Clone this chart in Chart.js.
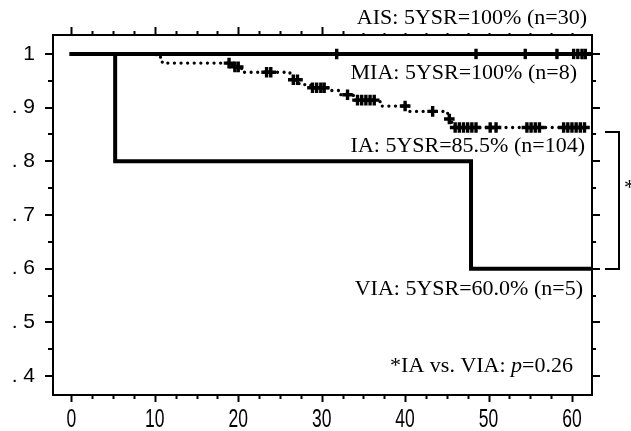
<!DOCTYPE html>
<html>
<head>
<meta charset="utf-8">
<script src="https://cdn.jsdelivr.net/npm/chart.js@4.4.1/dist/chart.umd.min.js"></script>
<style>
  html,body{margin:0;padding:0;background:#fff}
  canvas{display:block}
</style>
</head>
<body>
<canvas id="km" width="631" height="431"></canvas>
<script>
// Kaplan-Meier curves, values (time in months, survival 0-1)
const aisTimes = [0, 62.3];
const aisSurv  = [1, 1];
const aisCensorT = [31.8, 48.5, 54.4, 58.2, 60.2, 60.7, 61.2, 61.6];
const aisCensorS = [1, 1, 1, 1, 1, 1, 1, 1];

const miaTimes = [0, 61.5];
const miaSurv  = [1, 1];

const iaTimes = [0, 10.2, 10.9, 19.3, 20.4, 26.2, 27.3, 28.7, 30.8, 32.3, 33.8, 37.0, 40.5, 45.1, 45.6, 62.2];
const iaSurv  = [1, 0.994, 0.983, 0.976, 0.966, 0.952, 0.943, 0.937, 0.932, 0.924, 0.914, 0.903, 0.893, 0.879, 0.863, 0.863];
const iaCensorT = [18.9, 19.6, 20.0, 23.4, 23.9, 26.6, 27.1, 28.9, 29.4, 29.9, 30.3, 33.1, 34.3, 34.8, 35.3, 35.8, 36.3,
                   40.0, 43.3, 45.3, 46.0, 46.5, 47.0, 47.5, 48.0, 48.5, 50.2, 50.9, 54.6, 55.1, 55.6, 56.1,
                   59.0, 59.5, 60.0, 60.5, 61.0, 61.5];
const iaCensorS = [0.983, 0.976, 0.976, 0.966, 0.966, 0.952, 0.952, 0.937, 0.937, 0.937, 0.937, 0.924, 0.914, 0.914, 0.914, 0.914, 0.914,
                   0.903, 0.893, 0.879, 0.863, 0.863, 0.863, 0.863, 0.863, 0.863, 0.863, 0.863, 0.863, 0.863, 0.863, 0.863,
                   0.863, 0.863, 0.863, 0.863, 0.863, 0.863];

const viaTimes = [0, 5.25, 47.9, 62.3];
const viaSurv  = [1, 0.8, 0.6, 0.6];

// axes
const xMin = -2.2, xMax = 62.4;
const yMin = 0.3646, yMax = 1.0354;
const xTicks = [0, 10, 20, 30, 40, 50, 60];
const xTickLabels = ['0', '10', '20', '30', '40', '50', '60'];
const xMinorTicks = [2.5, 5, 7.5, 12.5, 15, 17.5, 22.5, 25, 27.5, 32.5, 35, 37.5, 42.5, 45, 47.5, 52.5, 55, 57.5];
const yTicks = [1, 0.9, 0.8, 0.7, 0.6, 0.5, 0.4];
const yTickLabels = ['1', '. 9', '. 8', '. 7', '. 6', '. 5', '. 4'];
const yMinorTicks = [0.95, 0.85, 0.75, 0.65, 0.55, 0.45];

// annotations
const aisNote = 'AIS: 5YSR=100% (n=30)';
const miaNote = 'MIA: 5YSR=100% (n=8)';
const iaNote  = 'IA: 5YSR=85.5% (n=104)';
const viaNote = 'VIA: 5YSR=60.0% (n=5)';
const pNote   = ['*IA vs. VIA: ', 'p', '=0.26'];
const bracketFrom = 0.855, bracketTo = 0.6;

const pts = (t, s) => t.map((v, i) => ({x: v, y: s[i]}));

const serif = '"Liberation Serif", "Times New Roman", serif';
const sans = '"Liberation Sans", Arial, sans-serif';

const overlay = {
  id: 'overlay',
  afterDraw(chart){
    const ctx = chart.ctx, a = chart.chartArea;
    const sx = chart.scales.x, sy = chart.scales.y;
    ctx.save();
    ctx.strokeStyle = '#000';
    ctx.lineWidth = 2;
    const seg = (x1, y1, x2, y2) => { ctx.beginPath(); ctx.moveTo(x1, y1); ctx.lineTo(x2, y2); ctx.stroke(); };

    // tick marks, outward on all four sides
    xTicks.forEach(v => { const p = Math.round(sx.getPixelForValue(v)) + 0.5;
      seg(p, a.bottom, p, a.bottom + 7); seg(p, a.top, p, a.top - 8); });
    xMinorTicks.forEach(v => { const p = Math.round(sx.getPixelForValue(v)) + 0.5;
      seg(p, a.bottom, p, a.bottom + 4); seg(p, a.top, p, a.top - 4); });
    yTicks.forEach(v => { const p = Math.round(sy.getPixelForValue(v));
      seg(a.left, p, a.left - 8, p); seg(a.right, p, a.right + 8, p); });
    yMinorTicks.forEach(v => { const p = Math.round(sy.getPixelForValue(v));
      seg(a.left, p, a.left - 5, p); seg(a.right, p, a.right + 4, p); });

    // x tick labels: narrow face, squeeze a regular sans
    ctx.fillStyle = '#000';
    ctx.font = '25px ' + sans;
    ctx.textAlign = 'center';
    ctx.textBaseline = 'alphabetic';
    xTicks.forEach((v, i) => {
      ctx.save();
      ctx.translate(sx.getPixelForValue(v), a.bottom + 31.5);
      ctx.scale(0.7, 1);
      ctx.fillText(xTickLabels[i], 0, 0);
      ctx.restore();
    });

    // notes, right aligned, white box behind
    ctx.font = '22px ' + serif;
    const note = (txt, right, base) => {
      const w = ctx.measureText(txt).width;
      ctx.fillStyle = '#fff';
      ctx.fillRect(right - w - 4, base - 19, w + 8, 24);
      ctx.fillStyle = '#000';
      ctx.textAlign = 'left';
      ctx.fillText(txt, right - w, base);
    };
    ctx.fillStyle = '#fff';
    ctx.fillRect(a.right - 240, 0, 240, a.top - 2);
    note(aisNote, a.right - 5, 23.5);
    note(miaNote, a.right - 15, 78.5);
    note(iaNote, a.right - 7, 152);
    note(viaNote, a.right - 9, 295);

    // p-value line with italic p
    const base = 371.5;
    ctx.textAlign = 'left';
    const w0 = ctx.measureText(pNote[0]).width;
    const w2 = ctx.measureText(pNote[2]).width;
    ctx.font = 'italic 22px ' + serif;
    const w1 = ctx.measureText(pNote[1]).width;
    const x0 = a.right - 19 - (w0 + w1 + w2);
    ctx.fillStyle = '#000';
    ctx.font = '22px ' + serif;
    ctx.fillText(pNote[0], x0, base);
    ctx.font = 'italic 22px ' + serif;
    ctx.fillText(pNote[1], x0 + w0, base);
    ctx.font = '22px ' + serif;
    ctx.fillText(pNote[2], x0 + w0 + w1, base);

    // bracket IA vs VIA
    const yt = Math.round(sy.getPixelForValue(bracketFrom));
    const yb = Math.round(sy.getPixelForValue(bracketTo));
    const bx0 = a.right + 13, bx1 = a.right + 27;
    ctx.beginPath();
    ctx.moveTo(bx0, yt); ctx.lineTo(bx1, yt); ctx.lineTo(bx1, yb); ctx.lineTo(bx0, yb);
    ctx.stroke();
    ctx.fillText('*', a.right + 32, (yt + yb) / 2 - 7);
    ctx.restore();
  }
};

const censor = (t, s, order) => ({
  type: 'scatter', data: pts(t, s), order,
  pointStyle: 'cross', pointRadius: 5.3, pointBorderWidth: 3.4,
  borderColor: '#000', backgroundColor: '#000', showLine: false
});

new Chart(document.getElementById('km'), {
  type: 'line',
  data: {
    datasets: [
      { label: 'AIS', data: pts(aisTimes, aisSurv), stepped: 'before', borderColor: '#000', borderWidth: 4, pointRadius: 0, order: 2,
        borderCapStyle: 'square' },
      { label: 'MIA', data: pts(miaTimes, miaSurv), stepped: 'before', borderColor: '#000', borderWidth: 4, pointRadius: 0, order: 3 },
      { label: 'VIA', data: pts(viaTimes, viaSurv), stepped: 'before', borderColor: '#000', borderWidth: 4, pointRadius: 0, order: 4,
        borderJoinStyle: 'miter' },
      { label: 'IA', data: pts(iaTimes, iaSurv), stepped: 'before', borderColor: '#000', borderWidth: 3.3, pointRadius: 0, order: 5,
        borderDash: [0, 6.6], borderCapStyle: 'round' },
      censor(aisCensorT, aisCensorS, 1),
      censor(iaCensorT, iaCensorS, 1)
    ]
  },
  options: {
    responsive: false,
    animation: false,
    layout: { padding: 0 },
    plugins: { legend: { display: false }, tooltip: { enabled: false } },
    scales: {
      x: {
        type: 'linear', position: 'bottom', min: xMin, max: xMax,
        afterBuildTicks: s => { s.ticks = xTicks.map(v => ({value: v})); },
        afterFit: s => { s.height = 36; },
        grid: { display: false, drawTicks: false },
        border: { display: true, color: '#000', width: 2 },
        ticks: { display: false }
      },
      x2: {
        type: 'linear', position: 'top', min: xMin, max: xMax,
        afterFit: s => { s.height = 35; },
        grid: { display: false, drawTicks: false },
        border: { display: true, color: '#000', width: 2 },
        ticks: { display: false }
      },
      y: {
        type: 'linear', position: 'left', min: yMin, max: yMax,
        afterBuildTicks: s => { s.ticks = yTicks.map(v => ({value: v})); },
        afterFit: s => { s.width = 53; },
        grid: { display: false, drawTicks: false },
        border: { display: true, color: '#000', width: 2 },
        ticks: { padding: 18, color: '#000', font: { family: sans, size: 21 },
          autoSkip: false, callback: (v, i) => yTickLabels[i] }
      },
      y2: {
        type: 'linear', position: 'right', min: yMin, max: yMax,
        afterFit: s => { s.width = 39; },
        grid: { display: false, drawTicks: false },
        border: { display: true, color: '#000', width: 2 },
        ticks: { display: false }
      }
    }
  },
  plugins: [overlay]
});
</script>
</body>
</html>
